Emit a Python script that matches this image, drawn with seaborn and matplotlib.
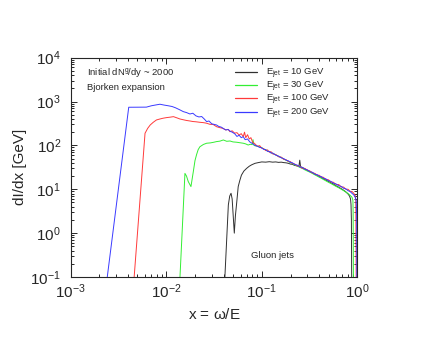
import pandas as pd
import matplotlib
matplotlib.use("Agg")
import matplotlib.pyplot as plt
import matplotlib.ticker as mticker
import seaborn as sns

# Series labels and colours
LABELS = [r"E$_{\rm jet}$ = 10 GeV", r"E$_{\rm jet}$ = 30 GeV",
          r"E$_{\rm jet}$ = 100 GeV", r"E$_{\rm jet}$ = 200 GeV"]
COLORS = ["#303030", "#33ee33", "#ff3a3a", "#3a3aff"]

# shared x grid of the high-x tail (where all jets fall on one curve)
tail_x = [0.085, 0.09, 0.095, 0.1, 0.105, 0.11, 0.115, 0.12, 0.125, 0.13,
          0.14, 0.15, 0.16, 0.17, 0.18, 0.19, 0.2, 0.21, 0.22, 0.235,
          0.25, 0.265, 0.28, 0.3, 0.32, 0.34, 0.36, 0.38, 0.4, 0.42,
          0.44, 0.47, 0.5, 0.53, 0.56, 0.6, 0.64, 0.68, 0.72, 0.76,
          0.8, 0.84, 0.88, 0.91, 0.94]

# E = 10 GeV
x10 = [0.0405, 0.0447, 0.0462, 0.0477, 0.049, 0.0516, 0.053, 0.0546, 0.0567, 0.059,
       0.0613, 0.065, 0.0695, 0.074, 0.0783, 0.085, 0.092, 0.1, 0.11, 0.12,
       0.13, 0.14, 0.15, 0.16, 0.17, 0.18, 0.19, 0.2, 0.21, 0.22,
       0.235, 0.245, 0.25, 0.255, 0.265, 0.28, 0.3, 0.32, 0.34, 0.36,
       0.38, 0.4, 0.42, 0.44, 0.47, 0.5, 0.53, 0.56, 0.6, 0.64,
       0.68, 0.72, 0.76, 0.8, 0.83, 0.85, 0.86, 0.868, 0.875]
y10 = [0.05, 4.4, 7.0, 8.1, 6.0, 1.0, 2.5, 4.8, 11.5, 16,
       21, 26, 30, 33.5, 36, 39, 40.5, 42, 41.5, 42.5,
       41.5, 42, 41, 41.5, 40.5, 40, 39, 37.5, 37, 35,
       34, 33.5, 46, 32.5, 31.5, 29.5, 27, 25.3, 23.6, 22,
       20.8, 19.6, 18.5, 17.5, 16.2, 15.1, 14.0, 13.2, 12.0, 11.1,
       10.3, 9.5, 8.7, 7.8, 7.0, 6.0, 4.5, 2.0, 0.05]

# E = 30 GeV
x30 = [0.0139, 0.0157, 0.0163, 0.017, 0.01815, 0.0192, 0.02, 0.0208, 0.0216, 0.0225,
       0.0245, 0.0265, 0.029, 0.0315, 0.0336, 0.0365, 0.0396, 0.043, 0.0465, 0.05,
       0.0546, 0.059, 0.064, 0.068, 0.072, 0.076, 0.0795, 0.081, 0.083] \
      + tail_x[:43] + [0.9, 0.905, 0.912]
y30 = [0.09, 23, 20, 15, 11.5, 25, 45, 62, 80, 93,
       105, 112, 114, 118, 122, 125, 133, 124, 126, 120,
       118, 115, 112, 108, 102, 106, 104, 135, 100] \
      + [98, 96, 92, 89, 82, 80, 74, 72, 68, 66,
         61, 56, 53, 48.5, 46, 43, 40.5, 38.5, 36, 34,
         31.5, 30, 28, 26, 24.5, 22.8, 21.3, 20, 18.8, 17.8,
         16.8, 15.5, 14.4, 13.5, 12.6, 11.6, 10.8, 10.0, 9.3, 8.6,
         8.0, 7.3, 6.6] + [5.6, 3.0, 0.05]

# E = 100 GeV
x100 = [0.0046, 0.006, 0.0064, 0.0068, 0.0073, 0.0079, 0.0086, 0.0093, 0.0101, 0.011,
        0.0119, 0.0129, 0.0139, 0.015, 0.0163, 0.0177, 0.019, 0.0205, 0.0225, 0.0245,
        0.0265, 0.0287, 0.031, 0.0336, 0.036, 0.039, 0.042, 0.0445, 0.0465, 0.049,
        0.052, 0.055, 0.058, 0.061, 0.064, 0.066, 0.068, 0.071, 0.074, 0.077,
        0.08] + tail_x + [0.955, 0.965, 0.975]
y100 = [0.09, 189, 245, 292, 335, 380, 400, 417, 430, 440,
        452, 425, 400, 385, 370, 360, 350, 345, 336, 330,
        320, 302, 300, 267, 255, 245, 225, 232, 205, 215,
        190, 195, 172, 185, 158, 200, 150, 175, 140, 150,
        120] \
       + [108, 95, 99, 86, 84, 76, 79, 70, 72, 64,
          62, 55, 54, 48, 47, 43, 42.5, 38.5, 38, 34,
          33.5, 30, 30, 27.5, 26, 23.5, 23, 21, 20.8, 19,
          18.8, 16.8, 16.4, 14.6, 14.5, 12.9, 12.8, 11.3, 11.2, 10.0,
          10.0, 9.0, 8.9, 8.3, 7.6] + [7.0, 5.5, 0.05]

# E = 200 GeV
x200 = [0.0024, 0.00405, 0.005, 0.0062, 0.007, 0.0079, 0.0086, 0.0095, 0.0105, 0.0115,
        0.0125, 0.0138, 0.0151, 0.0163, 0.0177, 0.019, 0.0205, 0.022, 0.0235, 0.025,
        0.0265, 0.028, 0.03, 0.032, 0.0336, 0.0355, 0.0375, 0.04, 0.042, 0.0445,
        0.0465, 0.049, 0.052, 0.055, 0.058, 0.061, 0.064, 0.067, 0.071, 0.075,
        0.08] + tail_x + [0.96, 0.975, 0.985, 0.99]
y200 = [0.09, 740, 742, 745, 800, 840, 867, 830, 800, 770,
        720, 650, 588, 560, 520, 540, 470, 445, 455, 400,
        348, 360, 310, 300, 292, 270, 262, 240, 225, 230,
        212, 200, 185, 160, 170, 150, 158, 135, 140, 120,
        110] \
       + [100, 96, 90, 88, 81, 80, 73, 73, 67, 67,
          60, 57, 52, 50, 46, 44.5, 41, 40, 37, 35.5,
          32.5, 31.5, 29, 27.5, 25, 24.3, 22, 21.5, 19.8, 19.4,
          17.9, 17.2, 15.6, 15.1, 13.8, 13.2, 12.0, 11.6, 10.5, 10.2,
          9.3, 8.9, 8.1, 7.6, 7.0] + [6.2, 5.5, 2.5, 0.05]

frames = []
for lab, xs, ys in zip(LABELS, [x10, x30, x100, x200], [y10, y30, y100, y200]):
    frames.append(pd.DataFrame({"x": xs, "y": ys, "series": lab}))
df = pd.concat(frames, ignore_index=True)

sns.set_style("ticks")
plt.rcParams["font.family"] = ["Liberation Sans", "DejaVu Sans"]
plt.rcParams["mathtext.fontset"] = "custom"
plt.rcParams["mathtext.rm"] = "Liberation Sans"
plt.rcParams["mathtext.it"] = "Liberation Sans:italic"
plt.rcParams["mathtext.default"] = "regular"

fig = plt.figure(figsize=(4.29, 3.46), dpi=100)
ax = fig.add_axes([0.1648, 0.1994, 0.668, 0.634])

sns.lineplot(data=df, x="x", y="y", hue="series", palette=dict(zip(LABELS, COLORS)),
             sort=False, estimator=None, linewidth=0.7, ax=ax)

ax.set_xscale("log")
ax.set_yscale("log")
ax.set_xlim(1e-3, 1)
ax.set_ylim(1e-1, 1e4)

ax.xaxis.set_major_locator(mticker.LogLocator(base=10, numticks=10))
ax.xaxis.set_minor_locator(mticker.LogLocator(base=10, subs=range(2, 10), numticks=20))
ax.yaxis.set_major_locator(mticker.LogLocator(base=10, numticks=10))
ax.yaxis.set_minor_locator(mticker.LogLocator(base=10, subs=range(2, 10), numticks=20))
ax.xaxis.set_minor_formatter(mticker.NullFormatter())
ax.yaxis.set_minor_formatter(mticker.NullFormatter())

ax.tick_params(which="both", direction="in", top=True, right=True, width=0.7)
ax.tick_params(which="major", length=4, labelsize=11)
ax.tick_params(which="minor", length=2)
ax.tick_params(axis="y", which="major", pad=7)
ax.tick_params(axis="x", which="major", pad=4)
for sp in ax.spines.values():
    sp.set_linewidth(0.8)

ax.set_xlabel(r"x = $\omega$/E", fontsize=11, labelpad=4)
ax.set_ylabel("dI/dx [GeV]", fontsize=11, labelpad=2)

ax.text(0.057, 0.930, r"Initial dN$^{g}$/dy ~ 2000", transform=ax.transAxes,
        fontsize=6.8, va="center")
ax.text(0.057, 0.862, "Bjorken expansion", transform=ax.transAxes,
        fontsize=6.8, va="center")
ax.text(0.629, 0.100, "Gluon jets", transform=ax.transAxes,
        fontsize=6.8, va="center")

leg = ax.legend(loc="upper left", bbox_to_anchor=(0.572, 0.960), frameon=False,
                fontsize=6.8, handlelength=2.4, handletextpad=0.9, labelspacing=-0.08,
                borderpad=0, borderaxespad=0)
for h in leg.get_lines():
    h.set_linewidth(0.9)

plt.savefig("out.png", dpi=100)
plt.close()
